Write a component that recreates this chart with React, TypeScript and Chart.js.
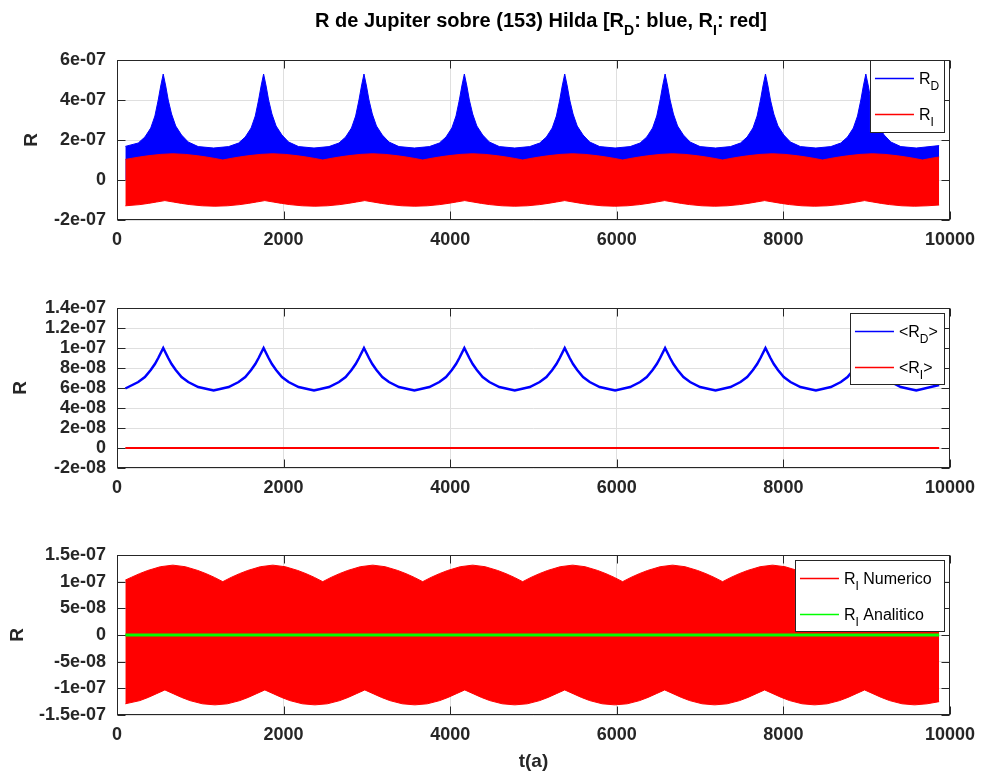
import React, { useEffect, useRef } from 'react';
import { Chart, registerables } from 'chart.js';

Chart.register(...registerables);

// ---------------- DATA ----------------
// time axis (years)
const xTicks = [0, 2000, 4000, 6000, 8000, 10000];
const xTickLabels = ['0', '2000', '4000', '6000', '8000', '10000'];

// Panel 1 y ticks
const y1Ticks = [-2e-7, 0, 2e-7, 4e-7, 6e-7];
const y1Labels = ['-2e-07', '0', '2e-07', '4e-07', '6e-07'];
// Panel 2 y ticks
const y2Ticks = [-2e-8, 0, 2e-8, 4e-8, 6e-8, 8e-8, 1e-7, 1.2e-7, 1.4e-7];
const y2Labels = ['-2e-08', '0', '2e-08', '4e-08', '6e-08', '8e-08', '1e-07', '1.2e-07', '1.4e-07'];
// Panel 3 y ticks
const y3Ticks = [-1.5e-7, -1e-7, -5e-8, 0, 5e-8, 1e-7, 1.5e-7];
const y3Labels = ['-1.5e-07', '-1e-07', '-5e-08', '0', '5e-08', '1e-07', '1.5e-07'];

// Sample times of R_D envelope and <R_D>
const peakT = [
  100, 255, 335, 405, 455, 495, 525, 555, 585, 615, 655, 705, 775, 855, 975, 1160,
  1340, 1460, 1540, 1610, 1660, 1700, 1730, 1760, 1790, 1820, 1860, 1910, 1980, 2060, 2180, 2365,
  2545, 2665, 2745, 2815, 2865, 2905, 2935, 2965, 2995, 3025, 3065, 3115, 3185, 3265, 3385, 3570,
  3750, 3870, 3950, 4020, 4070, 4110, 4140, 4170, 4200, 4230, 4270, 4320, 4390, 4470, 4590, 4775,
  4955, 5075, 5155, 5225, 5275, 5315, 5345, 5375, 5405, 5435, 5475, 5525, 5595, 5675, 5795, 5980,
  6160, 6280, 6360, 6430, 6480, 6520, 6550, 6580, 6610, 6640, 6680, 6730, 6800, 6880, 7000, 7185,
  7365, 7485, 7565, 7635, 7685, 7725, 7755, 7785, 7815, 7845, 7885, 7935, 8005, 8085, 8205, 8390,
  8570, 8690, 8770, 8840, 8890, 8930, 8960, 8990, 9020, 9050, 9090, 9140, 9210, 9290, 9410, 9595,
  9870,
];
// upper envelope of R_D (units 1e-7)
const rdTop = [
  1.68, 1.85, 2.15, 2.6, 3.2, 4.0, 4.7, 5.3, 4.7, 4.0, 3.3, 2.7, 2.25, 1.9, 1.67, 1.6,
  1.67, 1.85, 2.15, 2.6, 3.2, 4.0, 4.7, 5.3, 4.7, 4.0, 3.3, 2.7, 2.25, 1.9, 1.67, 1.6,
  1.67, 1.85, 2.15, 2.6, 3.2, 4.0, 4.7, 5.3, 4.7, 4.0, 3.3, 2.7, 2.25, 1.9, 1.67, 1.6,
  1.67, 1.85, 2.15, 2.6, 3.2, 4.0, 4.7, 5.3, 4.7, 4.0, 3.3, 2.7, 2.25, 1.9, 1.67, 1.6,
  1.67, 1.85, 2.15, 2.6, 3.2, 4.0, 4.7, 5.3, 4.7, 4.0, 3.3, 2.7, 2.25, 1.9, 1.67, 1.6,
  1.67, 1.85, 2.15, 2.6, 3.2, 4.0, 4.7, 5.3, 4.7, 4.0, 3.3, 2.7, 2.25, 1.9, 1.67, 1.6,
  1.67, 1.85, 2.15, 2.6, 3.2, 4.0, 4.7, 5.3, 4.7, 4.0, 3.3, 2.7, 2.25, 1.9, 1.67, 1.6,
  1.67, 1.85, 2.15, 2.6, 3.2, 4.0, 4.7, 5.3, 4.7, 4.0, 3.3, 2.7, 2.25, 1.9, 1.67, 1.6,
  1.72,
];
// <R_D> (units 1e-8)
const rdMean = [
  5.95, 6.6, 7.1, 7.8, 8.4, 9.0, 9.5, 10.0, 9.5, 9.0, 8.4, 7.8, 7.1, 6.6, 6.1, 5.75,
  6.1, 6.6, 7.1, 7.8, 8.4, 9.0, 9.5, 10.0, 9.5, 9.0, 8.4, 7.8, 7.1, 6.6, 6.1, 5.75,
  6.1, 6.6, 7.1, 7.8, 8.4, 9.0, 9.5, 10.0, 9.5, 9.0, 8.4, 7.8, 7.1, 6.6, 6.1, 5.75,
  6.1, 6.6, 7.1, 7.8, 8.4, 9.0, 9.5, 10.0, 9.5, 9.0, 8.4, 7.8, 7.1, 6.6, 6.1, 5.75,
  6.1, 6.6, 7.1, 7.8, 8.4, 9.0, 9.5, 10.0, 9.5, 9.0, 8.4, 7.8, 7.1, 6.6, 6.1, 5.75,
  6.1, 6.6, 7.1, 7.8, 8.4, 9.0, 9.5, 10.0, 9.5, 9.0, 8.4, 7.8, 7.1, 6.6, 6.1, 5.75,
  6.1, 6.6, 7.1, 7.8, 8.4, 9.0, 9.5, 10.0, 9.5, 9.0, 8.4, 7.8, 7.1, 6.6, 6.1, 5.75,
  6.1, 6.6, 7.1, 7.8, 8.4, 9.0, 9.5, 10.0, 9.5, 9.0, 8.4, 7.8, 7.1, 6.6, 6.1, 5.75,
  6.3,
];

// upper envelope of R_I (units 1e-7)
const riTopT = [
  100, 170, 270, 370, 520, 670, 820, 970, 1070, 1170, 1270,
  1370, 1470, 1570, 1720, 1870, 2020, 2170, 2270, 2370, 2470,
  2570, 2670, 2770, 2920, 3070, 3220, 3370, 3470, 3570, 3670,
  3770, 3870, 3970, 4120, 4270, 4420, 4570, 4670, 4770, 4870,
  4970, 5070, 5170, 5320, 5470, 5620, 5770, 5870, 5970, 6070,
  6170, 6270, 6370, 6520, 6670, 6820, 6970, 7070, 7170, 7270,
  7370, 7470, 7570, 7720, 7870, 8020, 8170, 8270, 8370, 8470,
  8570, 8670, 8770, 8920, 9070, 9220, 9370, 9470, 9570, 9670,
  9770, 9870,
];
const riTop = [
  1.03, 1.08, 1.15, 1.21, 1.28, 1.31, 1.28, 1.21, 1.15, 1.08, 1.0,
  1.08, 1.15, 1.21, 1.28, 1.31, 1.28, 1.21, 1.15, 1.08, 1.0,
  1.08, 1.15, 1.21, 1.28, 1.31, 1.28, 1.21, 1.15, 1.08, 1.0,
  1.08, 1.15, 1.21, 1.28, 1.31, 1.28, 1.21, 1.15, 1.08, 1.0,
  1.08, 1.15, 1.21, 1.28, 1.31, 1.28, 1.21, 1.15, 1.08, 1.0,
  1.08, 1.15, 1.21, 1.28, 1.31, 1.28, 1.21, 1.15, 1.08, 1.0,
  1.08, 1.15, 1.21, 1.28, 1.31, 1.28, 1.21, 1.15, 1.08, 1.0,
  1.08, 1.15, 1.21, 1.28, 1.31, 1.28, 1.21, 1.15, 1.08, 1.0,
  1.08, 1.15,
];
// lower envelope of R_I (units 1e-7)
const riBotT = [
  100, 275, 375, 475, 575, 675, 775, 875, 1025, 1175,
  1325, 1475, 1575, 1675, 1775, 1875, 1975, 2075, 2225, 2375,
  2525, 2675, 2775, 2875, 2975, 3075, 3175, 3275, 3425, 3575,
  3725, 3875, 3975, 4075, 4175, 4275, 4375, 4475, 4625, 4775,
  4925, 5075, 5175, 5275, 5375, 5475, 5575, 5675, 5825, 5975,
  6125, 6275, 6375, 6475, 6575, 6675, 6775, 6875, 7025, 7175,
  7325, 7475, 7575, 7675, 7775, 7875, 7975, 8075, 8225, 8375,
  8525, 8675, 8775, 8875, 8975, 9075, 9175, 9275, 9425, 9575,
  9725, 9870,
];
const riBot = [
  -1.29, -1.23, -1.17, -1.1, -1.03, -1.1, -1.17, -1.23, -1.29, -1.31,
  -1.29, -1.23, -1.17, -1.1, -1.03, -1.1, -1.17, -1.23, -1.29, -1.31,
  -1.29, -1.23, -1.17, -1.1, -1.03, -1.1, -1.17, -1.23, -1.29, -1.31,
  -1.29, -1.23, -1.17, -1.1, -1.03, -1.1, -1.17, -1.23, -1.29, -1.31,
  -1.29, -1.23, -1.17, -1.1, -1.03, -1.1, -1.17, -1.23, -1.29, -1.31,
  -1.29, -1.23, -1.17, -1.1, -1.03, -1.1, -1.17, -1.23, -1.29, -1.31,
  -1.29, -1.23, -1.17, -1.1, -1.03, -1.1, -1.17, -1.23, -1.29, -1.31,
  -1.29, -1.23, -1.17, -1.1, -1.03, -1.1, -1.17, -1.23, -1.29, -1.31,
  -1.29, -1.25,
];
// <R_I> (units 1e-8) and analytic R_I (units 1e-7)
const riMeanT = [100, 2000, 4000, 6000, 8000, 9870];
const riMean = [0, 0, 0, 0, 0, 0];
const riAnaT = [100, 2000, 4000, 6000, 8000, 9870];
const riAna = [0, 0, 0, 0, 0, 0];

// ---------------- STYLE / HELPERS ----------------
const FONT = "'Liberation Sans', Arial, Helvetica, sans-serif";
const INK = '#262626';
const GRID = '#dfdfdf';
const BLUE = '#0000ff';
const RED = '#ff0000';
const GREEN = '#00ff00';

type Seg = { t: string; sub?: boolean };

const pts = (t: number[], v: number[], k: number) => t.map((x, i) => ({ x, y: v[i] * k }));

function drawRich(ctx: CanvasRenderingContext2D, segs: Seg[], x: number, y: number, size: number, weight: string, align: 'left' | 'center') {
  ctx.save();
  const sub = Math.round(size * 0.72);
  const fontFor = (s: Seg) => `${weight} ${s.sub ? sub : size}px ${FONT}`;
  let total = 0;
  for (const s of segs) {
    ctx.font = fontFor(s);
    total += ctx.measureText(s.t).width;
  }
  let cx = align === 'center' ? x - total / 2 : x;
  ctx.textAlign = 'left';
  ctx.textBaseline = 'alphabetic';
  ctx.fillStyle = '#000';
  for (const s of segs) {
    ctx.font = fontFor(s);
    ctx.fillText(s.t, cx, s.sub ? y + size * 0.4 : y);
    cx += ctx.measureText(s.t).width;
  }
  ctx.restore();
}

const framePlugin = {
  id: 'frame',
  afterDatasetsDraw(chart: any) {
    const { ctx, chartArea: a, scales } = chart;
    ctx.save();
    ctx.strokeStyle = INK;
    ctx.lineWidth = 1;
    const L = Math.round(a.left) + 0.5, R = Math.round(a.right) - 0.5;
    const T = Math.round(a.top) + 0.5, B = Math.round(a.bottom) - 0.5;
    ctx.strokeRect(L, T, R - L, B - T);
    ctx.beginPath();
    const tl = 8;
    for (const tk of scales.x.ticks) {
      const px = Math.round(scales.x.getPixelForValue(tk.value)) + 0.5;
      ctx.moveTo(px, B); ctx.lineTo(px, B - tl);
      ctx.moveTo(px, T); ctx.lineTo(px, T + tl);
    }
    for (const tk of scales.y.ticks) {
      const py = Math.round(scales.y.getPixelForValue(tk.value)) + 0.5;
      ctx.moveTo(L, py); ctx.lineTo(L + tl, py);
      ctx.moveTo(R, py); ctx.lineTo(R - tl, py);
    }
    ctx.stroke();
    ctx.restore();
  },
};

const legendPlugin = {
  id: 'richLegend',
  afterDraw(chart: any, _args: any, opts: any) {
    if (!opts || !opts.items) return;
    const { ctx, chartArea: a } = chart;
    const right = a.right - 6;
    const left = right - opts.width;
    const top = a.top + opts.dy;
    ctx.save();
    ctx.fillStyle = '#fff';
    ctx.fillRect(left, top, opts.width, opts.height);
    ctx.strokeStyle = INK;
    ctx.lineWidth = 1;
    ctx.strokeRect(Math.round(left) + 0.5, Math.round(top) + 0.5, opts.width, opts.height);
    opts.items.forEach((it: any, i: number) => {
      const ly = Math.round(top + 18 + i * 36) + 0.5;
      ctx.strokeStyle = it.color;
      ctx.lineWidth = 1.5;
      ctx.beginPath();
      ctx.moveTo(left + 5, ly);
      ctx.lineTo(left + 44, ly);
      ctx.stroke();
      drawRich(ctx, it.segs, left + 49, ly + 5.5, 16, 'normal', 'left');
    });
    ctx.restore();
  },
};

const titlePlugin = {
  id: 'figTitle',
  afterDraw(chart: any, _args: any, opts: any) {
    if (!opts || !opts.segs) return;
    drawRich(chart.ctx, opts.segs, opts.x, opts.y, 20, 'bold', 'center');
  },
};

function makeScales(yMin: number, yMax: number, yT: number[], yL: number[], yTitlePad: number, xAxisH: number, xTitle?: string) {
  return {
    x: {
      type: 'linear',
      min: 0,
      max: 10000,
      afterBuildTicks: (s: any) => { s.ticks = xTicks.map((v) => ({ value: v })); },
      afterFit: (s: any) => { s.height = xAxisH; },
      ticks: {
        callback: (_v: any, i: number) => xTickLabels[i],
        font: { family: FONT, size: 18, weight: 'bold' },
        color: INK,
        padding: 9,
        maxRotation: 0,
        autoSkip: false,
      },
      grid: { color: GRID, lineWidth: 1, drawTicks: false },
      border: { display: false },
      title: xTitle
        ? { display: true, text: xTitle, font: { family: FONT, size: 19, weight: 'bold' }, color: INK, padding: { top: 0, bottom: 1 } }
        : { display: false },
    },
    y: {
      type: 'linear',
      min: yMin,
      max: yMax,
      afterBuildTicks: (s: any) => { s.ticks = yT.map((v) => ({ value: v })); },
      afterFit: (s: any) => { s.width = 117; },
      ticks: {
        callback: (_v: any, i: number) => yL[i],
        font: { family: FONT, size: 18, weight: 'bold' },
        color: INK,
        padding: 11,
        autoSkip: false,
      },
      grid: { color: GRID, lineWidth: 1, drawTicks: false },
      border: { display: false },
      title: { display: true, text: 'R', font: { family: FONT, size: 19, weight: 'bold' }, color: INK, padding: { top: yTitlePad, bottom: 0 } },
    },
  };
}

const baseLine = { pointRadius: 0, pointHoverRadius: 0, tension: 0 };

function config1(): any {
  return {
    type: 'line',
    data: {
      datasets: [
        { ...baseLine, label: 'RI top', data: pts(riTopT, riTop, 1e-7), borderColor: RED, borderWidth: 1, backgroundColor: RED, fill: '+1', order: 0 },
        { ...baseLine, label: 'RI bottom', data: pts(riBotT, riBot, 1e-7), borderColor: RED, borderWidth: 1, backgroundColor: RED, fill: false, order: 0 },
        { ...baseLine, label: 'RD', data: pts(peakT, rdTop, 1e-7), borderColor: BLUE, borderWidth: 1, backgroundColor: BLUE, fill: 'origin', order: 1 },
      ],
    },
    options: {
      responsive: false,
      animation: false,
      devicePixelRatio: 1,
      layout: { padding: { top: 60, right: 33, left: 0, bottom: 0 } },
      scales: makeScales(-2e-7, 6e-7, y1Ticks, y1Labels, 20, 30),
      plugins: {
        legend: { display: false },
        tooltip: { enabled: false },
        richLegend: {
          width: 74, height: 72, dy: 0,
          items: [
            { color: BLUE, segs: [{ t: 'R' }, { t: 'D', sub: true }] },
            { color: RED, segs: [{ t: 'R' }, { t: 'I', sub: true }] },
          ],
        },
        figTitle: {
          x: 541, y: 27,
          segs: [{ t: 'R de Jupiter sobre (153) Hilda [R' }, { t: 'D', sub: true }, { t: ': blue, R' }, { t: 'I', sub: true }, { t: ': red]' }],
        },
      },
    },
    plugins: [framePlugin, legendPlugin, titlePlugin],
  };
}

function config2(): any {
  return {
    type: 'line',
    data: {
      datasets: [
        { ...baseLine, label: '<RI>', data: pts(riMeanT, riMean, 1e-8), borderColor: RED, borderWidth: 2, fill: false, order: 0 },
        { ...baseLine, label: '<RD>', data: pts(peakT, rdMean, 1e-8), borderColor: BLUE, borderWidth: 2.5, fill: false, order: 1 },
      ],
    },
    options: {
      responsive: false,
      animation: false,
      devicePixelRatio: 1,
      layout: { padding: { top: 58, right: 33, left: 0, bottom: 0 } },
      scales: makeScales(-2e-8, 1.4e-7, y2Ticks, y2Labels, 9, 32),
      plugins: {
        legend: { display: false },
        tooltip: { enabled: false },
        richLegend: {
          width: 94, height: 71, dy: 5,
          items: [
            { color: BLUE, segs: [{ t: '<R' }, { t: 'D', sub: true }, { t: '>' }] },
            { color: RED, segs: [{ t: '<R' }, { t: 'I', sub: true }, { t: '>' }] },
          ],
        },
      },
    },
    plugins: [framePlugin, legendPlugin],
  };
}

function config3(): any {
  return {
    type: 'line',
    data: {
      datasets: [
        { ...baseLine, label: 'RI Analitico', data: pts(riAnaT, riAna, 1e-7), borderColor: GREEN, borderWidth: 3, fill: false, order: 0 },
        { ...baseLine, label: 'RI Numerico top', data: pts(riTopT, riTop, 1e-7), borderColor: RED, borderWidth: 1, backgroundColor: RED, fill: '+1', order: 1 },
        { ...baseLine, label: 'RI Numerico bottom', data: pts(riBotT, riBot, 1e-7), borderColor: RED, borderWidth: 1, backgroundColor: RED, fill: false, order: 1 },
      ],
    },
    options: {
      responsive: false,
      animation: false,
      devicePixelRatio: 1,
      layout: { padding: { top: 55, right: 33, left: 0, bottom: 0 } },
      scales: makeScales(-1.5e-7, 1.5e-7, y3Ticks, y3Labels, 6, 59, 't(a)'),
      plugins: {
        legend: { display: false },
        tooltip: { enabled: false },
        richLegend: {
          width: 149, height: 71, dy: 5,
          items: [
            { color: RED, segs: [{ t: 'R' }, { t: 'I', sub: true }, { t: ' Numerico' }] },
            { color: GREEN, segs: [{ t: 'R' }, { t: 'I', sub: true }, { t: ' Analitico' }] },
          ],
        },
      },
    },
    plugins: [framePlugin, legendPlugin],
  };
}

function Panel({ make, top, height }: { make: () => any; top: number; height: number }) {
  const ref = useRef<HTMLCanvasElement>(null);
  useEffect(() => {
    const chart = new Chart(ref.current as HTMLCanvasElement, make());
    return () => chart.destroy();
  }, []);
  return (
    <canvas
      ref={ref}
      width={984}
      height={height}
      style={{ position: 'absolute', left: 0, top, width: 984, height, display: 'block' }}
    />
  );
}

export default function App() {
  return (
    <div style={{ position: 'absolute', left: 0, top: 0, width: 984, height: 774, background: '#fff', overflow: 'hidden' }}>
      <Panel make={config1} top={0} height={250} />
      <Panel make={config2} top={250} height={250} />
      <Panel make={config3} top={500} height={274} />
    </div>
  );
}
